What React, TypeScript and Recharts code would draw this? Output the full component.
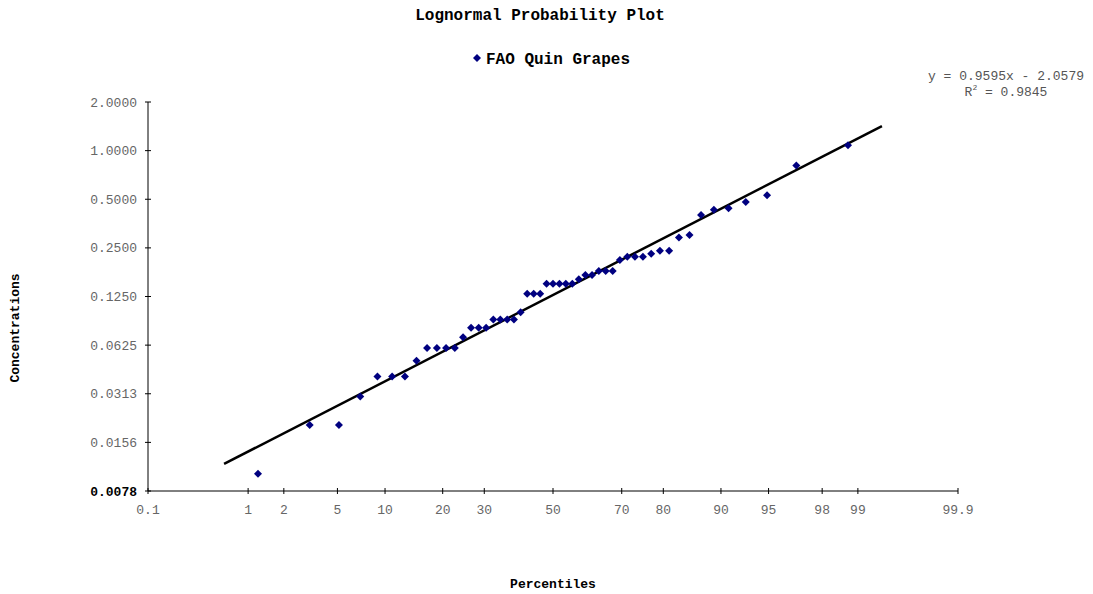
import { ScatterChart, Scatter, XAxis, YAxis } from "recharts";

const percentiles = [
  1.22, 3.17, 5.12, 7.07, 9.02, 10.98, 12.93, 14.88, 16.83, 18.78, 20.73, 22.68, 24.63,
  26.59, 28.54, 30.49, 32.44, 34.39, 36.34, 38.29, 40.24, 42.2, 44.15, 46.1, 48.05, 50.0,
  51.95, 53.9, 55.85, 57.8, 59.76, 61.71, 63.66, 65.61, 67.56, 69.51, 71.46, 73.41, 75.37,
  77.32, 79.27, 81.22, 83.17, 85.12, 87.07, 89.02, 90.98, 92.93, 94.88, 96.83, 98.78,
];
const concentrations = [
  0.01, 0.02, 0.02, 0.03, 0.04, 0.04, 0.04, 0.05, 0.06, 0.06, 0.06, 0.06, 0.07, 0.08, 0.08,
  0.08, 0.09, 0.09, 0.09, 0.09, 0.1, 0.13, 0.13, 0.13, 0.15, 0.15, 0.15, 0.15, 0.15, 0.16,
  0.17, 0.17, 0.18, 0.18, 0.18, 0.21, 0.22, 0.22, 0.22, 0.23, 0.24, 0.24, 0.29, 0.3, 0.4,
  0.43, 0.44, 0.48, 0.53, 0.81, 1.08,
];

const xTickPercents = [0.1, 1, 2, 5, 10, 20, 30, 50, 70, 80, 90, 95, 98, 99, 99.9];
const xTickLabels = ["0.1", "1", "2", "5", "10", "20", "30", "50", "70", "80", "90", "95", "98", "99", "99.9"];
const yTickValues = [0.0078125, 0.015625, 0.03125, 0.0625, 0.125, 0.25, 0.5, 1, 2];
const yTickLabels = ["0.0078", "0.0156", "0.0313", "0.0625", "0.1250", "0.2500", "0.5000", "1.0000", "2.0000"];

// trendline: ln(c) = slope * z + intercept, drawn over this percentile range
const trendSlope = 0.9595;
const trendIntercept = -2.0579;
const trendPercents = [0.604, 99.396];

const FONT = "'Liberation Mono', 'Courier New', monospace";
const NAVY = "#000080";
const GRAY = "#666666";

// inverse standard normal CDF (Acklam)
function probit(p: number) {
  const a = [-39.69683028665376, 220.9460984245205, -275.9285104469687, 138.357751867269, -30.66479806614716, 2.506628277449774];
  const b = [-54.47609879822406, 161.5858368580409, -155.6989798598866, 66.80131188771972, -13.28068155288572];
  const c = [-0.007784894002430293, -0.3223964580411365, -2.400758277161838, -2.549732539343734, 4.374664141464968, 2.938163982698783];
  const d = [0.007784695709041462, 0.3224671290700398, 2.445134137142996, 3.754408661907416];
  const plow = 0.02425;
  if (p < plow) {
    const q = Math.sqrt(-2 * Math.log(p));
    return (((((c[0] * q + c[1]) * q + c[2]) * q + c[3]) * q + c[4]) * q + c[5]) / ((((d[0] * q + d[1]) * q + d[2]) * q + d[3]) * q + 1);
  }
  if (p <= 1 - plow) {
    const q = p - 0.5;
    const r = q * q;
    return ((((((a[0] * r + a[1]) * r + a[2]) * r + a[3]) * r + a[4]) * r + a[5]) * q) / (((((b[0] * r + b[1]) * r + b[2]) * r + b[3]) * r + b[4]) * r + 1);
  }
  const q = Math.sqrt(-2 * Math.log(1 - p));
  return -(((((c[0] * q + c[1]) * q + c[2]) * q + c[3]) * q + c[4]) * q + c[5]) / ((((d[0] * q + d[1]) * q + d[2]) * q + d[3]) * q + 1);
}

const points = percentiles.map((p, i) => ({ z: probit(p / 100), ly: Math.log2(concentrations[i]) }));
const trend = trendPercents.map((p) => {
  const z = probit(p / 100);
  return { z, ly: (trendSlope * z + trendIntercept) / Math.LN2 };
});
const xTicks = xTickPercents.map((p) => probit(p / 100));
const yTicks = yTickValues.map((v) => Math.log2(v));

const Diamond = ({ cx, cy }: any) => (
  <polygon points={`${cx},${cy - 4} ${cx + 4},${cy} ${cx},${cy + 4} ${cx - 4},${cy}`} fill={NAVY} />
);

const XTick = ({ x, y, index }: any) => (
  <g>
    <line x1={x} x2={x} y1={y - 16} y2={y - 10} stroke="#000" />
    <text x={x} y={y + 9.5} textAnchor="middle" fill={GRAY} fontSize={13} fontFamily={FONT}>
      {xTickLabels[index]}
    </text>
  </g>
);

const YTick = ({ x, y, index }: any) => (
  <g>
    <line x1={x + 8} x2={x + 14} y1={y} y2={y} stroke="#000" />
    <text
      x={x}
      y={y + 4.5}
      textAnchor="end"
      fill={index === 0 ? "#000" : GRAY}
      fontWeight={index === 0 ? "bold" : "normal"}
      fontSize={13}
      fontFamily={FONT}
    >
      {yTickLabels[index]}
    </text>
  </g>
);

export default function App() {
  return (
    <div style={{ position: "absolute", left: 0, top: 0, width: 1093, height: 594, background: "#fff" }}>
      <ScatterChart width={1093} height={594} margin={{ top: 102, right: 135, bottom: 0, left: 0 }}>
        <XAxis
          type="number"
          dataKey="z"
          domain={[xTicks[0], xTicks[xTicks.length - 1]]}
          ticks={xTicks}
          interval={0}
          allowDataOverflow
          height={103}
          tickSize={3}
          tickMargin={10}
          tickLine={false}
          axisLine={{ stroke: "#000" }}
          tick={<XTick />}
        />
        <YAxis
          type="number"
          dataKey="ly"
          domain={[yTicks[0], yTicks[yTicks.length - 1]]}
          ticks={yTicks}
          interval={0}
          allowDataOverflow
          width={148}
          tickSize={3}
          tickMargin={8}
          tickLine={false}
          axisLine={{ stroke: "#000" }}
          tick={<YTick />}
        />
        <Scatter
          data={trend}
          line={{ stroke: "#000", strokeWidth: 2.5 }}
          shape={() => <g />}
          isAnimationActive={false}
        />
        <Scatter data={points} shape={(p: any) => <Diamond {...p} />} isAnimationActive={false} />
      </ScatterChart>
      <svg width={1093} height={594} style={{ position: "absolute", left: 0, top: 0, pointerEvents: "none" }}>
        <text x={540} y={20} textAnchor="middle" fontFamily={FONT} fontWeight="bold" fontSize={16} fill="#000">
          Lognormal Probability Plot
        </text>
        <polygon points="477,54 481,58 477,62 473,58" fill={NAVY} />
        <text x={486} y={64} fontFamily={FONT} fontWeight="bold" fontSize={16} fill="#000">
          FAO Quin Grapes
        </text>
        <text x={1006} y={79.5} textAnchor="middle" fontFamily={FONT} fontSize={13} fill="#555">
          y = 0.9595x - 2.0579
        </text>
        <text x={1006} y={96} textAnchor="middle" fontFamily={FONT} fontSize={13} fill="#555">
          R<tspan fontSize={8} dy={-6}>2</tspan>
          <tspan dy={6}> = 0.9845</tspan>
        </text>
        <text
          x={15}
          y={328}
          transform="rotate(-90 15 328)"
          textAnchor="middle"
          dominantBaseline="central"
          fontFamily={FONT}
          fontWeight="bold"
          fontSize={13}
          fill="#000"
        >
          Concentrations
        </text>
        <text x={553} y={588} textAnchor="middle" fontFamily={FONT} fontWeight="bold" fontSize={13} fill="#000">
          Percentiles
        </text>
      </svg>
    </div>
  );
}
